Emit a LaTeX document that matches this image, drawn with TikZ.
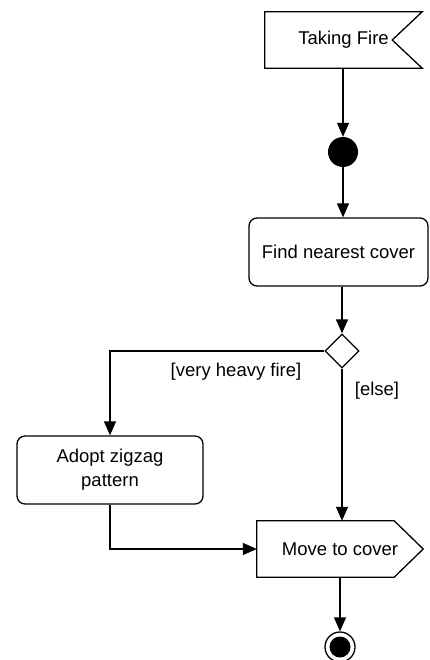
\documentclass[tikz,border=0pt]{standalone}
\usepackage{fontspec}
\setmainfont{Liberation Sans}
\usetikzlibrary{arrows.meta,shapes.geometric}
\begin{document}
\begin{tikzpicture}[x=1pt,y=-1pt,
  lw/.style={line width=1.3pt},
  arr/.style={lw,-{Triangle[length=14pt,width=12pt]}},
  lbl/.style={font=\fontsize{18.5}{24}\selectfont,inner sep=0pt},
  actbox/.style={draw,lw,rounded corners=8pt,align=center,font=\fontsize{18.5}{24}\selectfont,inner sep=0pt},
  ghost/.style={draw=none,inner sep=0pt,font=\fontsize{18.5}{24}\selectfont},
  startdot/.style={circle,fill=black,minimum size=30pt,inner sep=0pt},
  decision/.style={diamond,draw,lw,fill=white,minimum width=34pt,minimum height=34pt,inner sep=0pt}
]
\useasboundingbox (0,0) rectangle (430,660);

% Taking Fire (accept signal)
\node[ghost,minimum width=157pt,minimum height=56pt] (tf) at (343.5,40) {Taking Fire};
\draw[lw] (tf.north west) -- (tf.north east) -- ([xshift=-30pt]tf.east) -- (tf.south east) -- (tf.south west) -- cycle;

% initial node
\node[startdot] (start) at (343,152) {};

% Find nearest cover
\node[actbox,minimum width=179pt,minimum height=68pt] (find) at (338.5,252) {Find nearest cover};

% decision
\node[decision] (dec) at (342,351) {};

% Adopt zigzag pattern
\node[actbox,minimum width=186pt,minimum height=68pt] (adopt) at (110,470) {Adopt zigzag\\pattern};

% Move to cover (send signal)
\node[ghost,minimum width=166pt,minimum height=56pt] (move) at (340,549) {Move to cover};
\draw[lw] (move.north west) -- ([xshift=-29pt]move.north east) -- (move.east) -- ([xshift=-29pt]move.south east) -- (move.south west) -- cycle;

% final node
\node[circle,draw,lw,minimum size=30pt,inner sep=0pt] (final) at (340,647) {};
\fill (final.center) circle (10.5pt);

% connectors
\draw[arr] (tf.south -| start) -- (start.north);
\draw[arr] (start.south) -- (start.south |- find.north);
\draw[arr] (find.south -| dec) -- (dec.north);
\draw[arr] (dec.west) -| (adopt.north);
\draw[arr] (dec.south) -- (dec.south |- move.north);
\draw[arr] (adopt.south) |- (move.west);
\draw[arr] (move.south) -- (final.north);

% guard labels
\node[lbl] (g1) at (236,372) {[very heavy fire]};
\node[lbl] (g2) at (377,391) {[else]};
\end{tikzpicture}
\end{document}
